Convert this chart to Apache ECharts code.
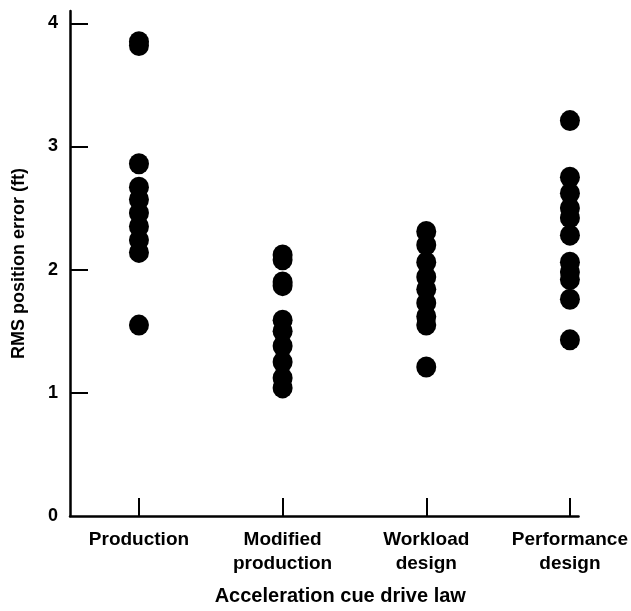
<!DOCTYPE html>
<html>
<head>
<meta charset="utf-8">
<script src="https://cdn.jsdelivr.net/npm/echarts@6/dist/echarts.min.js"></script>
<style>
  html, body { margin: 0; padding: 0; background: #fff; }
  #main { width: 631px; height: 611px; }
</style>
</head>
<body>
<div id="main"></div>
<script>
// categories along the x axis
var categories = ['Production', 'Modified\nproduction', 'Workload\ndesign', 'Performance\ndesign'];

// RMS position error (ft) per drive law
var production = [3.85, 3.82, 2.86, 2.67, 2.57, 2.46, 2.35, 2.24, 2.14, 1.55];
var modifiedProduction = [2.12, 2.08, 1.90, 1.87, 1.59, 1.50, 1.38, 1.25, 1.12, 1.04];
var workloadDesign = [2.31, 2.20, 2.06, 1.94, 1.84, 1.73, 1.62, 1.55, 1.21];
var performanceDesign = [3.21, 2.75, 2.62, 2.50, 2.42, 2.28, 2.06, 1.98, 1.92, 1.76, 1.43];

var yTickValues = [0, 1, 2, 3, 4];

var groups = [production, modifiedProduction, workloadDesign, performanceDesign];
var points = [];
for (var i = 0; i < groups.length; i++) {
  for (var j = 0; j < groups[i].length; j++) {
    points.push([i, groups[i][j]]);
  }
}

var font = '"Liberation Sans", Arial, sans-serif';

var chart = echarts.init(document.getElementById('main'));
chart.setOption({
  animation: false,
  backgroundColor: '#fff',
  grid: { left: 70, right: 52, top: 11, bottom: 92 },
  xAxis: {
    type: 'value',
    min: -0.48,
    max: 3.06,
    splitLine: { show: false },
    axisLine: { show: true, onZero: false, lineStyle: { color: '#000', width: 2.5 } },
    axisTick: {
      show: true, inside: true, length: 18,
      customValues: [0, 1, 2, 3],
      lineStyle: { color: '#000', width: 2 }
    },
    axisLabel: {
      customValues: [0, 1, 2, 3],
      formatter: function (v) { return categories[Math.round(v)]; },
      color: '#000',
      fontFamily: font,
      fontWeight: 'bold',
      fontSize: 19,
      lineHeight: 24,
      margin: 12
    },
    name: 'Acceleration cue drive law',
    nameLocation: 'middle',
    nameGap: 70,
    nameTextStyle: {
      color: '#000', fontFamily: font, fontWeight: 'bold', fontSize: 20,
      padding: [0, 0, 0, 32]
    }
  },
  yAxis: {
    type: 'value',
    min: 0,
    max: 4.1,
    splitLine: { show: false },
    axisLine: { show: true, onZero: false, lineStyle: { color: '#000', width: 2.5 } },
    axisTick: {
      show: true, inside: true, length: 18,
      customValues: [1, 2, 3, 4],
      lineStyle: { color: '#000', width: 2 }
    },
    axisLabel: {
      customValues: yTickValues,
      color: '#000',
      fontFamily: font,
      fontWeight: 'bold',
      fontSize: 18,
      margin: 12
    },
    name: 'RMS position error (ft)',
    nameLocation: 'middle',
    nameRotate: 90,
    nameGap: 42,
    nameTextStyle: { color: '#000', fontFamily: font, fontWeight: 'bold', fontSize: 18 }
  },
  series: [{
    type: 'scatter',
    data: points,
    symbol: 'circle',
    symbolSize: [20, 21],
    itemStyle: { color: '#000', opacity: 1 }
  }]
});
</script>
</body>
</html>
